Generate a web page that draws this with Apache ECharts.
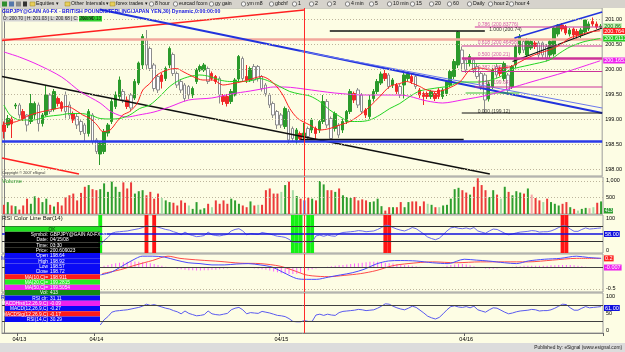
<!DOCTYPE html>
<html>
<head>
<meta charset="utf-8">
<title>GBPJPY 30 min</title>
<script src="https://cdn.jsdelivr.net/npm/echarts@6.0.0/dist/echarts.min.js"></script>
<style>
  html, body { margin: 0; padding: 0; background: #fdfde4; }
  #chart { width: 625px; height: 352px; }
</style>
</head>
<body>
<div id="chart"></div>
<script>
// ---- values (30 min bars, index 0..155) ----
const dayLabels = { 4: '04/13', 24: '04/14', 72: '04/15', 120: '04/16' }
const cursorIndex = 78

const openP = [
  198.88,198.88,199.00,199.26,199.28,199.15,199.08,198.95,199.08,199.28,
  198.91,199.08,199.48,199.20,199.41,199.33,199.48,199.28,199.11,199.05,
  198.95,198.88,198.71,199.08,198.58,198.30,198.35,198.72,198.95,199.25,
  199.45,199.55,199.38,199.48,199.42,199.72,200.08,200.58,200.41,200.08,
  199.85,199.88,199.81,200.08,200.29,199.91,199.75,199.68,199.65,199.48,
  199.75,199.98,199.98,200.01,199.91,199.85,199.81,199.45,199.45,199.35,
  199.48,199.80,200.21,199.85,199.78,200.05,200.05,199.85,199.68,199.48,
  199.31,199.15,199.08,198.85,199.15,198.81,198.58,198.71,198.64,198.81,
  198.78,198.81,198.78,198.95,199.35,199.01,198.81,198.88,198.78,198.95,
  199.15,199.51,199.58,199.48,199.18,199.05,199.41,199.55,199.72,199.91,
  199.88,199.68,199.68,199.65,199.68,199.81,199.85,199.85,199.58,199.51,
  199.51,199.45,199.51,199.58,199.45,199.51,199.68,199.85,200.08,200.38,
  200.18,200.11,200.18,200.05,199.91,199.88,199.40,199.65,200.05,200.01,
  199.81,199.88,199.65,200.08,200.32,200.55,200.28,200.42,200.52,200.52,
  200.52,200.45,200.28,200.30,200.70,200.88,200.85,200.70,200.80,200.75,
  200.68,200.74,200.80,200.95,200.90,200.84
]
const closeP = [
  198.75,199.01,198.90,199.28,199.08,199.01,198.88,199.31,199.31,198.91,
  199.08,199.48,199.15,199.55,199.31,199.21,199.15,199.08,198.98,198.88,
  198.75,198.71,199.15,198.55,198.35,198.52,198.75,198.88,199.35,199.48,
  199.78,199.38,199.25,199.22,199.75,200.12,200.65,200.08,200.01,199.61,
  199.58,199.75,200.01,200.41,199.91,199.68,199.58,199.41,199.48,199.61,
  199.98,200.05,200.08,199.75,199.81,199.75,199.48,199.35,199.31,199.55,
  199.78,200.25,199.81,199.78,200.01,199.78,199.81,199.61,199.51,199.28,
  199.08,198.88,198.88,199.21,198.58,198.61,198.78,198.61,198.72,198.65,
  198.98,198.71,198.95,199.35,198.88,198.61,199.11,198.68,198.95,199.15,
  199.55,199.38,199.28,199.15,199.08,199.38,199.55,199.75,199.90,199.81,
  199.65,199.78,199.55,199.48,199.88,199.91,199.75,199.65,199.48,199.45,
  199.45,199.55,199.41,199.45,199.58,199.75,199.95,200.15,200.74,200.11,
  199.98,200.25,199.98,199.85,199.65,199.38,199.70,199.98,199.88,199.91,
  200.11,199.58,200.05,200.45,200.65,200.38,200.58,200.55,200.45,200.28,
  200.28,200.22,200.55,200.82,200.88,200.80,200.72,200.78,200.68,200.68,
  200.78,200.98,200.90,200.90,200.84,200.86
]
const lowP = [
  198.61,198.82,198.62,199.20,199.01,198.96,198.75,198.90,199.00,198.75,
  198.85,199.05,199.10,199.15,199.25,199.15,199.01,199.00,198.92,198.80,
  198.68,198.55,198.65,198.50,198.30,198.08,198.30,198.65,198.90,199.20,
  199.40,199.32,199.20,199.15,199.38,199.68,200.00,200.00,199.96,199.55,
  199.52,199.61,199.76,200.02,199.86,199.62,199.52,199.35,199.40,199.42,
  199.70,199.94,199.94,199.70,199.77,199.70,199.31,199.28,199.25,199.30,
  199.45,199.76,199.76,199.72,199.74,199.72,199.75,199.55,199.45,199.22,
  199.02,198.80,198.82,198.80,198.51,198.55,198.51,198.57,198.57,198.60,
  198.72,198.58,198.72,198.90,198.82,198.58,198.75,198.62,198.72,198.90,
  199.10,199.32,199.22,199.10,199.02,199.00,199.35,199.50,199.68,199.76,
  199.60,199.62,199.50,199.42,199.41,199.76,199.70,199.60,199.42,199.28,
  199.40,199.40,199.36,199.40,199.40,199.46,199.64,199.80,200.02,199.95,
  199.92,200.05,199.92,199.80,199.58,199.12,199.35,199.60,199.82,199.85,
  199.76,199.48,199.60,200.02,200.28,200.32,200.24,200.38,200.40,200.22,
  200.20,200.15,200.22,200.25,200.65,200.75,200.68,200.65,200.62,200.60,
  200.62,200.70,200.76,200.85,200.80,200.80
]
const highP = [
  198.95,199.08,199.05,199.32,199.32,199.20,199.10,199.50,199.35,199.33,
  199.12,199.68,199.52,199.60,199.45,199.36,199.55,199.35,199.15,199.10,
  199.00,198.92,199.20,199.12,198.62,198.55,198.80,198.92,199.40,199.55,
  199.85,199.60,199.45,199.52,199.80,200.15,200.70,200.78,200.45,200.12,
  199.90,199.92,200.05,200.45,200.33,199.95,199.80,199.72,199.68,199.65,
  200.02,200.09,200.12,200.05,199.95,199.88,199.85,199.50,199.50,199.60,
  199.82,200.28,200.25,200.08,200.05,200.10,200.08,199.88,199.72,199.52,
  199.35,199.18,199.12,199.25,199.20,198.85,198.82,198.75,198.92,198.85,
  199.02,198.85,198.98,199.48,199.40,199.05,199.15,198.92,199.00,199.18,
  199.60,199.55,199.62,199.52,199.22,199.48,199.60,199.80,199.95,199.98,
  199.92,199.82,199.72,199.70,199.92,199.95,199.90,199.90,199.62,199.55,
  199.55,199.58,199.55,199.62,199.62,199.78,199.98,200.20,200.76,200.45,
  200.22,200.30,200.22,200.10,199.95,199.92,199.75,200.02,200.10,200.05,
  200.15,199.92,200.08,200.50,200.70,200.60,200.62,200.60,200.56,200.56,
  200.55,200.50,200.60,200.86,200.90,200.92,200.88,200.82,200.83,200.80,
  200.82,201.00,200.95,201.03,200.95,200.90
]
const volume = [
  278,360,258,237,134,258,464,309,536,484,
  360,464,278,227,360,258,515,567,618,412,
  639,824,876,752,721,752,927,670,979,824,
  670,958,773,958,618,690,721,567,670,464,
  618,484,412,360,340,258,412,340,258,155,
  360,134,175,309,206,412,309,412,309,464,
  412,309,258,206,381,258,278,278,721,773,
  618,618,670,876,979,721,546,464,413,494,
  464,412,999,896,721,721,670,773,567,515,
  484,515,412,443,412,361,381,464,237,103,
  206,206,206,361,206,361,381,381,237,381,
  309,278,206,206,258,278,464,752,793,721,
  649,587,824,1082,876,721,515,721,587,464,
  824,670,567,690,649,618,773,587,484,412,
  361,464,361,309,258,309,361,206,155,103,
  155,185,175,206,340,381
]
// moving averages read as [bar index, price]
const ma10 = [[0,198.91],[3.3,198.95],[6.8,199.08],[10.1,199.15],[13.8,199.21],[16.4,199.25],[17.9,199.21],[20.5,199.08],[22.4,199.01],[24.2,198.88],[25.7,198.75],[27.6,198.78],[29.4,198.95],[30.9,199.08],[32.7,199.15],[34.6,199.31],[36.1,199.58],[37.9,199.71],[39.8,199.88],[42.4,199.98],[44.9,200.01],[46.5,199.95],[49.1,199.85],[51.7,199.78],[54.3,199.78],[56.9,199.68],[59.5,199.71],[62.1,199.75],[64.7,199.81],[67,199.85],[69.1,199.78],[70.9,199.65],[72.5,199.48],[74.3,199.21],[76.4,199.01],[79.5,198.88],[82.1,198.78],[84.7,198.81],[87.3,198.88],[89.9,198.95],[92.5,199.08],[95.1,199.25],[97.7,199.45],[100.3,199.65],[102.9,199.71],[104.7,199.75],[106.3,199.71],[108.1,199.65],[109.9,199.58],[112.5,199.55],[115.1,199.6],[118.5,199.74],[121.1,199.98],[123.7,200.02],[126.3,199.98],[128.9,200.02],[131.4,200.04],[134.1,200.14],[136.6,200.24],[139.2,200.32],[141.8,200.38],[144.5,200.48],[147.1,200.62],[149.7,200.68],[152.3,200.74],[155,200.764]]
const ma20 = [[0,199.28],[1.6,199.08],[4.2,198.98],[7.6,198.98],[11.2,199.05],[14.6,199.08],[17.2,199.11],[19.8,199.11],[22.4,199.08],[25,199.01],[27.6,199],[30.1,199.01],[32.7,199.08],[35.3,199.21],[37.9,199.28],[40.5,199.45],[43.1,199.65],[45.7,199.78],[48.3,199.85],[50.9,199.88],[53.5,199.85],[56.1,199.78],[58.7,199.75],[61.3,199.75],[63.9,199.76],[66.5,199.81],[69.1,199.75],[71.7,199.65],[74.3,199.55],[76.9,199.5],[79.5,199.46],[82.1,199.35],[84.7,199.18],[87.3,199.05],[89.9,198.95],[92.5,198.95],[95.1,198.98],[97.7,199.08],[100.3,199.21],[102.9,199.31],[105.5,199.45],[108.1,199.56],[110.7,199.6],[113.3,199.63],[115.9,199.66],[118.5,199.74],[123.7,199.74],[128.9,199.84],[131.4,199.98],[136.6,200.08],[141.8,200.18],[144.5,200.32],[147.1,200.44],[150.5,200.54],[155,200.611]]
const ma50 = [[0,200.34],[4,200.24],[9,200.08],[15,199.84],[20,199.54],[25,199.32],[28,199.14],[32,199.04],[35,199.08],[39,199.14],[43,199.24],[48,199.38],[54,199.42],[59,199.5],[64,199.56],[67,199.6],[70,199.64],[73,199.64],[76,199.62],[78,199.6],[86,199.52],[94,199.48],[103,199.48],[110,199.36],[114,199.32],[119,199.38],[126,199.48],[131,199.6],[137,199.74],[146,199.94],[155,200.165]]

// RSI(14), hidden behind the data window before bar 25
const rsi = [
  null,null,null,null,null,null,null,null,null,null,
  null,null,null,null,null,null,null,null,null,null,
  null,null,null,null,null,
  20,33,41,52,55,56,57,58,60,62,
  64,67,72,69,71,68,65,62,60,56,
  53,48,55,49,46,43,44,46,55,48,
  46,45,47,49,58,62,64,58,48,51,
  50,49,54,52,50,47,44,43,41,36,
  29,28,28,31,29,29,45,47,44,47,
  45,44,51,54,55,56,57,59,58,56,
  57,58,62,67,73,72,67,63,60,58,
  62,67,64,57,50,42,38,35,39,48,
  58,66,68,65,64,66,63,67,58,55,
  52,58,63,62,57,52,48,50,53,55,
  56,57,59,58,55,56,56,58,62,67,
  72,71,63,57,57,62,66,63,64,65,66
]
// MACD(12,26,9)
const macdLine = [[25,-0.18],[28,-0.11],[31.2,0.05],[34.3,0.2],[35.9,0.25],[38.5,0.25],[41.6,0.23],[44.7,0.16],[47.8,0.1],[50.9,0.08],[54,0.05],[57.2,0.05],[60.3,0.07],[63.4,0.08],[66.5,0.05],[69.6,0],[72.7,-0.13],[75.9,-0.26],[78.5,-0.28],[81.1,-0.28],[84.2,-0.23],[87.3,-0.18],[90.4,-0.13],[93.5,-0.05],[96.6,0.07],[99.8,0.14],[102.9,0.15],[107,0.14],[111.2,0.1],[115.3,0.08],[119.5,0.18],[122.6,0.16],[125.7,0.14],[129.9,0.1],[133,0.08],[136.1,0.14],[140.3,0.18],[144.4,0.2],[148.6,0.25],[151.7,0.22],[155,0.2]]
const macdSignal = [[25.5,-0.15],[30.2,-0.06],[34.3,0.05],[38.5,0.15],[42.6,0.25],[45.7,0.2],[50.9,0.16],[56.1,0.13],[61.3,0.09],[66.5,0.08],[71.7,0.02],[75.9,-0.1],[78,-0.17],[80,-0.2],[84.2,-0.22],[88.3,-0.19],[92.5,-0.15],[96.6,-0.08],[100.8,0.03],[104.9,0.08],[111.2,0.12],[117.4,0.1],[123.7,0.12],[129.9,0.12],[136.1,0.12],[142.4,0.16],[148.6,0.2],[155,0.2]]
const macdHist = [
  null,null,null,null,null,null,null,null,null,null,
  null,null,null,null,null,null,null,null,null,null,
  null,null,null,null,null,
  0,0.03,0.05,0.07,0.09,
  0.1,0.11,0.12,0.13,0.13,0.12,0.11,0.1,
  0.09,0.07,0.05,0.03,0.01,-0.01,-0.02,-0.04,
  -0.05,-0.06,-0.07,-0.07,-0.08,-0.08,-0.07,-0.07,-0.06,-0.06,
  -0.05,-0.04,-0.03,-0.02,-0.01,-0.01,0,-0.01,-0.02,-0.03,-0.04,
  -0.05,-0.06,-0.08,-0.1,-0.12,-0.14,-0.15,-0.16,-0.16,-0.15,-0.13,
  -0.09,-0.07,-0.05,-0.03,-0.02,0,0.01,0.02,
  0.03,0.04,0.05,0.06,0.07,0.08,0.09,0.1,0.11,0.12,
  0.12,0.12,0.11,0.1,0.09,0.08,0.07,0.06,0.05,0.04,
  0.03,0.02,0.01,0,-0.01,-0.02,-0.01,0,0.01,0.03,0.05,0.06,
  0.07,0.07,0.06,0.04,0.02,0,-0.02,-0.03,-0.04,-0.04,-0.03,-0.02,
  -0.01,0,0.01,0.02,0.02,0.03,0.03,0.03,0.03,0.03,0.03,0.03,
  0.04,0.04,0.05,0.05,0.05,0.05,0.04,0.03,0.02,0.01,0,0,-0.01,-0.007
]

// drawn studies, as [bar index, price]
const redRiseLine = [[-0.5,200.57],[78,201.18]]
const redFallLine = [[-0.5,198.22],[19.5,197.9]]
const pinkLevel = [[-0.5,200.59],[155.5,200.59]]
const blueFallLine = [[24.9,201.19],[155.5,199.12]]
const blueFallThin = [[76.9,200.36],[155.5,199.22]]
const blackFallLine = [[-0.5,199.85],[126.3,197.9]]
const blueSupport = [[-0.5,198.55],[155.5,198.55]]
const blackSupport = [[77,198.59],[119.5,198.59]]
const blackTop = [[84.7,200.76],[125,200.76]]
const channelTop = [[132.7,200.62],[155.5,201.14]]
const channelMid = [[132.2,200.15],[155.5,200.82]]
const fibLevels = [[122.4,200.84],[119,200.46],[119,200.21],[119,199.95],[122.4,199.64]]
const fibZero = [[119,199.12],[155.5,199.12]]
const greenShort = [[[120,200.11],[129.5,200.11]],[[120,199.52],[134,199.52]]]
const fibTexts = [
  [123,200.89,'0.786 (200.83776)'],[126,200.79,'1.000 (200.74)'],[123,200.52,'0.618 (200.46458)'],
  [123,200.28,'0.500 (200.21)'],[123,200.03,'0.382 (199.95)'],[123,199.72,'0.236 (199.64)'],
  [123,199.15,'0.000 (199.12)']
]
const lastValues = { close: 200.86, ma10: 200.764, ma20: 200.6113, ma50: 200.1651, macdSig: 0.2, macdHist: -0.007, rsiBox: 62.5 }

const priceTicks = [198, 198.5, 199, 199.5, 200, 200.5, 201]
const macdTicks = [-0.5]

// ---- chart ----
const FONT = 'Liberation Sans'
const BG = '#fdfde4'
const N = closeP.length
const cats = closeP.map((_, i) => String(i))

const grids = [
  { left: 2, right: 22, top: 8, height: 168 },
  { left: 2, right: 22, top: 177, height: 37 },
  { left: 2, right: 22, top: 215, height: 38 },
  { left: 2, right: 22, top: 254, height: 38 },
  { left: 2, right: 22, top: 293, height: 40 }
]

const xAxis = []
grids.forEach((g, gi) => {
  const last = gi === grids.length - 1
  xAxis.push({
    type: 'category', gridIndex: gi, data: cats, boundaryGap: true,
    axisLine: { show: last, lineStyle: { color: '#808080' } },
    axisTick: { show: last, interval: (i) => dayLabels[i] !== undefined, length: 3, lineStyle: { color: '#606060' } },
    axisLabel: {
      show: last, interval: (i) => dayLabels[i] !== undefined,
      formatter: (v, i) => dayLabels[i] || '', fontSize: 5.5, color: '#000', margin: 3, fontFamily: FONT
    },
    splitLine: { show: false }
  })
  xAxis.push({ type: 'value', gridIndex: gi, min: -0.5, max: N - 0.5, show: false })
})

const yLabel = { fontSize: 5.5, color: '#000', margin: 3, fontFamily: FONT }
const yBase = { type: 'value', position: 'right', axisLine: { show: true, lineStyle: { color: '#808080' } }, axisTick: { show: false }, splitLine: { show: false } }
const yAxis = [
  { ...yBase, gridIndex: 0, min: 197.86, max: 201.22, axisLabel: { ...yLabel, customValues: priceTicks, formatter: (v) => v.toFixed(2) } },
  { ...yBase, gridIndex: 1, min: 0, max: 1120, interval: 500, axisLabel: { ...yLabel, formatter: (v) => (v === 1000 ? '1,000' : v === 500 ? '500' : '') } },
  { ...yBase, gridIndex: 2, min: 0, max: 100, interval: 50, axisLabel: { ...yLabel, verticalAlignMaxLabel: 'top', verticalAlignMinLabel: 'bottom' } },
  { ...yBase, gridIndex: 3, min: -0.57, max: 0.3, axisLabel: { ...yLabel, customValues: macdTicks, formatter: (v) => v.toFixed(1) } },
  { ...yBase, gridIndex: 4, min: 0, max: 100, interval: 50, axisLabel: { ...yLabel, verticalAlignMaxLabel: 'top', verticalAlignMinLabel: 'bottom' } }
]

function candleItem(i) {
  const o = openP[i], c = closeP[i]
  let style
  if (c >= o) style = { color: '#2b9a2b', borderColor: '#2b9a2b' }
  else if (o - c >= 0.15) style = { color0: '#ffffff', borderColor0: '#8c8c8c' }
  else style = { color0: '#f02828', borderColor0: '#f02828' }
  return { value: [o, c, lowP[i], highP[i]], itemStyle: style }
}
function volColor(i) {
  if (i === cursorIndex) return '#3355ff'
  const up = i === 0 ? closeP[i] >= openP[i] : closeP[i] >= closeP[i - 1]
  if (up) return closeP[i] >= openP[i] ? '#2e9e2e' : '#a6dca6'
  return closeP[i] < openP[i] ? '#ec3a3a' : '#f5a6a6'
}
const cursorMark = { xAxis: cursorIndex, lineStyle: { color: '#ff2a2a', width: 1, type: 'solid' } }
const dotted = (v) => ({ yAxis: v, lineStyle: { color: '#bdb59c', width: 1, type: [1, 2] } })
const boxLabel = (text, bg, fg) => ({ show: true, position: 'end', distance: 1, formatter: text, backgroundColor: bg, color: fg, fontSize: 5.5, padding: [0, 1], fontFamily: FONT })
const valueBox = (v, text, bg, fg) => ({ yAxis: v, lineStyle: { color: 'rgba(0,0,0,0)', width: 0 }, label: boxLabel(text, bg, fg) })
const mk = (data) => ({ symbol: 'none', silent: true, animation: false, label: { show: false }, data })

const series = []
const line = (xi, yi, data, color, width, extra) => series.push({
  type: 'line', xAxisIndex: xi, yAxisIndex: yi, data, symbol: 'none', silent: true,
  lineStyle: { color, width }, z: 3, ...(extra || {})
})

// price panel
series.push({
  type: 'candlestick', xAxisIndex: 0, yAxisIndex: 0, barWidth: 3, z: 2,
  data: closeP.map((_, i) => candleItem(i)),
  markLine: mk([...priceTicks.map(dotted), cursorMark])
})
line(1, 0, pinkLevel, '#f2a79c', 2.5)
line(1, 0, redRiseLine, '#ff2020', 1.5)
line(1, 0, redFallLine, '#ff2020', 1.5)
line(1, 0, blackFallLine, '#101010', 1.5)
line(1, 0, blueFallLine, '#2233dd', 2)
line(1, 0, blueFallThin, '#6a78ee', 1)
line(1, 0, blueSupport, '#2a3ae8', 2.5)
line(1, 0, blackSupport, '#101010', 1.5)
line(1, 0, blackTop, '#101010', 1.5)
line(1, 0, channelTop, '#2233dd', 1.5)
line(1, 0, channelMid, '#101010', 1.2)
fibLevels.forEach((p, k) => line(1, 0, [p, [155.5, p[1]]], '#cc3399', k === 2 ? 2.5 : 1))
line(1, 0, fibZero, '#101010', 1.2)
greenShort.forEach((seg) => line(1, 0, seg, '#3bbf3b', 1))
line(1, 0, ma50, '#ee22ee', 1, { smooth: 0.3 })
line(1, 0, ma20, '#22d422', 1, { smooth: 0.3 })
line(1, 0, ma10, '#ff2020', 1, {
  smooth: 0.3,
  markLine: mk([
    valueBox(lastValues.close, '200.86', '#c9f2b8', '#0a6a0a'),
    valueBox(lastValues.ma10, '200.764', '#ff2020', '#ffffff'),
    valueBox(lastValues.ma20, '200.6113', '#22cc22', '#ffffff'),
    valueBox(lastValues.ma50, '200.1651', '#ee22ee', '#ffffff')
  ])
})
series.push({
  type: 'scatter', xAxisIndex: 1, yAxisIndex: 0, symbolSize: 1, silent: true, z: 4,
  itemStyle: { color: 'transparent' },
  data: fibTexts.map(([i, p, t]) => ({
    value: [i, p],
    label: { show: true, position: 'right', distance: 0, formatter: t, fontSize: 5, fontFamily: FONT, color: t.startsWith('1.000') || t.startsWith('0.000') ? '#000' : '#cc3399' }
  }))
})

// volume
series.push({
  type: 'bar', xAxisIndex: 2, yAxisIndex: 1, barWidth: 2,
  data: volume.map((v, i) => ({ value: v, itemStyle: { color: volColor(i) } })),
  markLine: mk([dotted(500), dotted(1000), cursorMark])
})

// RSI colour line bar
series.push({
  type: 'bar', xAxisIndex: 4, yAxisIndex: 2, barWidth: '100%', silent: true,
  data: rsi.map((v) => (v == null ? null : v > 70 ? { value: 100, itemStyle: { color: '#ff1414' } } : v < 30 ? { value: 100, itemStyle: { color: '#14f014' } } : null))
})
const rsiPairs = rsi.map((v, i) => [i, v]).filter((d) => d[1] != null)
const rsiColorIdx = series.length
line(5, 2, rsiPairs, '#6b6bf0', 1, {
  markLine: mk([
    { yAxis: 70, lineStyle: { color: '#303030', width: 1, type: 'solid' } },
    { yAxis: 30, lineStyle: { color: '#303030', width: 1, type: 'solid' } },
    { yAxis: 50, lineStyle: { color: '#1010dd', width: 1.5, type: 'solid' }, label: boxLabel('58.00', '#1010dd', '#ffffff') },
    { xAxis: cursorIndex, lineStyle: { color: '#ff2a2a', width: 1, type: 'solid' } }
  ])
})

// MACD
series.push({
  type: 'bar', xAxisIndex: 6, yAxisIndex: 3, barWidth: 1, silent: true,
  itemStyle: { color: '#ff66ff' }, data: macdHist
})
line(7, 3, macdSignal, '#ff4a4a', 1, { smooth: 0.3 })
line(7, 3, macdLine, '#4a4aff', 1, {
  smooth: 0.3,
  markLine: mk([
    { yAxis: 0, lineStyle: { color: '#404040', width: 1, type: 'solid' } },
    { yAxis: -0.5, lineStyle: { color: '#bdb59c', width: 1, type: [1, 2] } },
    valueBox(lastValues.macdSig, '0.2', '#ff2020', '#ffffff'),
    valueBox(lastValues.macdHist, '-0.007', '#ee22ee', '#ffffff'),
    { xAxis: cursorIndex, lineStyle: { color: '#ff2a2a', width: 1, type: 'solid' } }
  ])
})

// RSI
line(9, 4, rsiPairs, '#5a5af0', 1, {
  markLine: mk([
    { yAxis: 70, lineStyle: { color: '#404040', width: 1, type: 'solid' } },
    { yAxis: 30, lineStyle: { color: '#404040', width: 1, type: 'solid' } },
    valueBox(lastValues.rsiBox, '61.00', '#1010dd', '#ffffff'),
    { xAxis: cursorIndex, lineStyle: { color: '#ff2a2a', width: 1, type: 'solid' } }
  ])
})

// ---- overlays: toolbar, titles, data window ----
const txt = (x, y, text, size, color, extra) => ({
  type: 'text', x, y, silent: true, z: 100,
  style: { text, fontSize: size, fill: color, fontFamily: FONT, ...(extra || {}) }
})
const rect = (x, y, w, h, fill, extra) => ({ type: 'rect', silent: true, z: 99, shape: { x, y, width: w, height: h }, style: { fill, ...(extra || {}) } })

const toolbarItems = [
  [36, 'Equities ▾'], [71, 'Other Intervals ▾'], [116, 'forex trades ▾'], [155, '8 hour'], [179, 'eurcad fcom'],
  [215, 'gy gain'], [247, 'ym m8'], [275, 'gbchf'], [298, '1'], [315, '2'], [333, '3'], [351, '4 min'],
  [375, '5'], [393, '10 min'], [416, '15'], [435, '20'], [453, '60'], [473, 'Daily'], [494, 'hour 2'], [515, 'hour 4']
]
const graphic = [
  rect(0, 0, 625, 8, '#d6d3cc'),
  rect(2, 1.5, 5, 5, '#2f8f2f'), rect(9, 1.5, 5, 5, '#5577aa'), rect(16, 1.5, 5, 5, '#888'), rect(23, 1.5, 4, 5, '#333')
]
toolbarItems.forEach(([x, t], k) => {
  if (k < 3) graphic.push(rect(x - 6, 2, 5, 4, '#e8cf5a', { stroke: '#9a8020', lineWidth: 0.5 }))
  else graphic.push({ type: 'circle', silent: true, z: 99, shape: { cx: x - 3.5, cy: 4, r: 2.2 }, style: { fill: '#f4f4f4', stroke: '#444', lineWidth: 0.6 } })
  graphic.push(txt(x, 1.2, t, 5.2, '#111'))
})
graphic.push(
  rect(0, 343, 625, 9, '#dcdcdc'),
  txt(622, 345.5, 'Published by: eSignal (www.esignal.com)', 4.8, '#222', { textAlign: 'right' }),
  txt(2, 9.2, 'GBPJPY@GAIN A0-FX - BRITISH POUND/STERLING/JAPAN YEN,30) Dynamic,0:00:00:00', 5.2, '#1818e0', { fontWeight: 'bold' }),
  rect(2, 16, 76, 5.5, '#d4d4d4'),
  txt(3, 16.4, 'O: 200.70 | H: 201.03 | L: 200.68 | C: 200.86', 4.6, '#222'),
  rect(79, 16, 23, 5.5, '#2ed12e'),
  txt(81, 16.4, 'Net +0.13', 4.6, '#113311'),
  txt(2, 171, 'Copyright © 2007 eSignal', 3.8, '#333'),
  txt(2, 178, 'Volume', 6, '#2f9a2f'),
  txt(2, 215.5, 'RSI Color Line Bar(14)', 6, '#111'),
  rect(604, 208, 9, 5.5, '#2e9e2e'),
  txt(605, 208.5, '413', 4.6, '#fff'),
  txt(1, 256, 'M', 5, '#1010dd'),
  txt(1, 295, 'R', 5, '#1010dd')
)

const infoRows = [
  ['OK', '', '#22e022', '#0a3a0a'],
  ['Symbol:', 'GBPJPY@GAIN A0-FX,30', '#000000', '#ffffff'],
  ['Date:', '04/15/08', '#000000', '#ffffff'],
  ['Time:', '03:30', '#000000', '#ffffff'],
  ['Price:', '200.609023', '#000000', '#ffffff'],
  ['Open', '198.64', '#0a0af5', '#ffffff'],
  ['High', '198.92', '#0a0af5', '#ffffff'],
  ['Low', '198.57', '#0a0af5', '#ffffff'],
  ['Close', '198.72', '#0a0af5', '#ffffff'],
  ['MA(10,C)=', '198.911', '#ff1a1a', '#ffffff'],
  ['MA(20,C)=', '199.2815', '#22ee22', '#ffffff'],
  ['MA(50,C)=', '199.5054', '#ee22ee', '#ffffff'],
  ['Vol:', '413', '#138a13', '#ffffff'],
  ['RSI clr:', '31.11', '#0a0af5', '#ffffff'],
  ['MACDHist(12,26,9,C)', '-0.09', '#ee22ee', '#ffffff'],
  ['MACD(12,26,9,C)', '-0.27', '#0a0af5', '#ffffff'],
  ['MACDSig(12,26,9,C)', '-0.17', '#ff1a1a', '#ffffff'],
  ['RSI(14,C)', '30.29', '#0a0af5', '#ffffff']
]
const rowH = 5.3
infoRows.forEach(([label, value, bg, fg], r) => {
  const y = 226.5 + r * rowH
  graphic.push(rect(5, y, 95, rowH, bg))
  if (!value) {
    graphic.push(txt(52, y + 0.5, label, 4.8, fg, { textAlign: 'center' }))
  } else {
    graphic.push(txt(48, y + 0.5, label, 4.8, fg, { textAlign: 'right' }))
    graphic.push(txt(50, y + 0.5, value, 4.8, fg))
  }
})

const chart = echarts.init(document.getElementById('chart'))
chart.setOption({
  animation: false,
  backgroundColor: BG,
  textStyle: { fontFamily: FONT },
  grid: grids.map((g) => ({ ...g, show: true, backgroundColor: BG, borderColor: '#9c9c9c', borderWidth: 1 })),
  xAxis,
  yAxis,
  visualMap: [{
    type: 'piecewise', show: false, seriesIndex: rsiColorIdx, dimension: 1,
    pieces: [{ lt: 30, color: '#000000' }, { gte: 30, lte: 70, color: '#6b6bf0' }, { gt: 70, color: '#000000' }]
  }],
  series,
  graphic
})
</script>
</body>
</html>
